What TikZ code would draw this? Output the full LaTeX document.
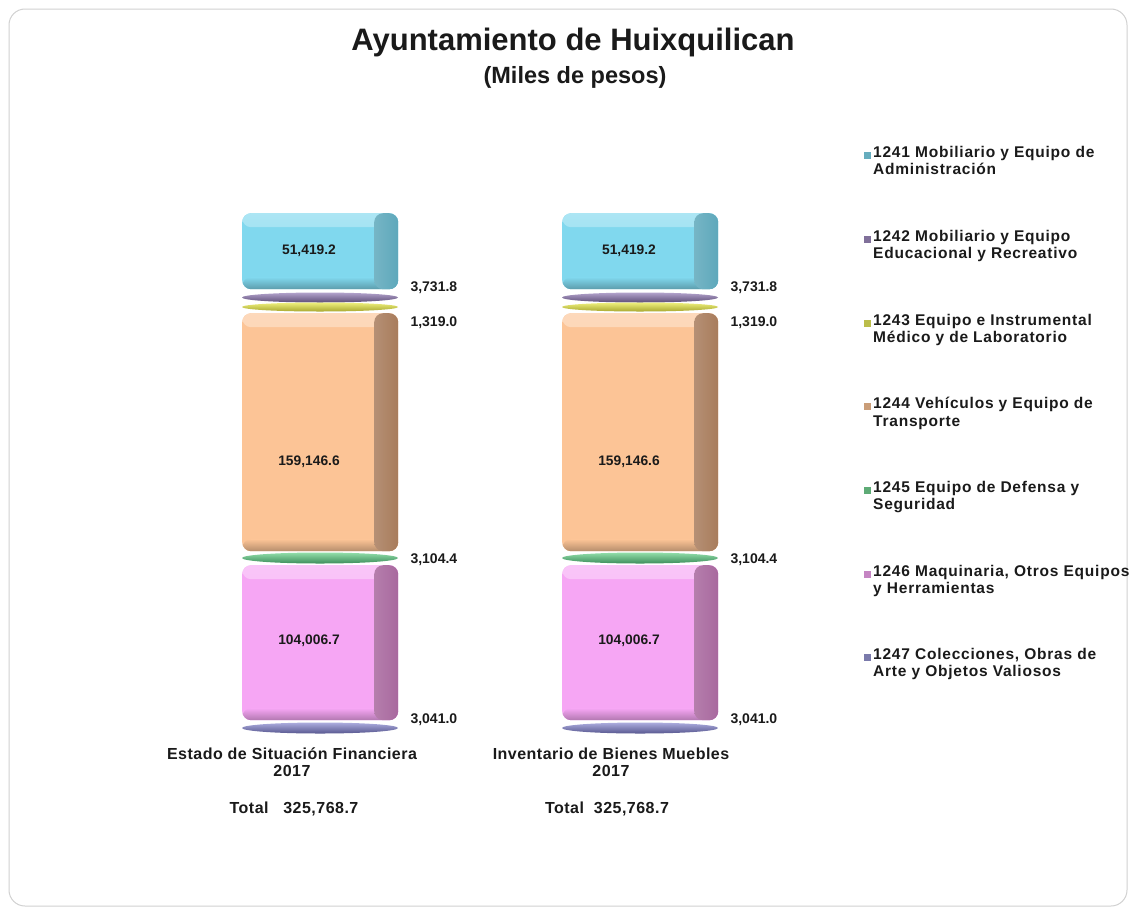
\documentclass[tikz,border=0pt]{standalone}
\usepackage{fontspec}
\setmainfont{Liberation Sans}
\usetikzlibrary{shapes.geometric}
\definecolor{cyanF}{HTML}{80D8EE}\definecolor{cyanS}{HTML}{5EA8BB}
\definecolor{purF}{HTML}{A08CC0}\definecolor{purS}{HTML}{5E4E78}
\definecolor{yelF}{HTML}{EAEC5C}\definecolor{yelS}{HTML}{A8A830}
\definecolor{oraF}{HTML}{FCC496}\definecolor{oraS}{HTML}{A87C5C}
\definecolor{greF}{HTML}{76D694}\definecolor{greS}{HTML}{3E8E5C}
\definecolor{pinF}{HTML}{F6A6F4}\definecolor{pinS}{HTML}{A8689E}
\definecolor{lavF}{HTML}{9898D6}\definecolor{lavS}{HTML}{585890}
\definecolor{txt}{HTML}{1A1A1A}
\tikzset{
  seg/.style 2 args={draw=none, fill=#1, rounded corners=9pt, anchor=north west,
    minimum width=156pt, inner sep=0pt,
    path picture={
      \shade[top color=#1!65!white, bottom color=#1]
        (path picture bounding box.north west) rectangle ([yshift=-14pt]path picture bounding box.north east);
      \shade[top color=#1, bottom color=#1!72!black]
        ([yshift=12pt]path picture bounding box.south west) rectangle (path picture bounding box.south east);
      \shade[left color=#2!85!white, right color=#2, rounded corners=9pt]
        ([xshift=-24pt]path picture bounding box.north east) rectangle (path picture bounding box.south east);
    }},
  disc/.style 2 args={ellipse, draw=none, minimum width=156pt, inner sep=0pt,
    top color=#1!80!white, middle color=#1, bottom color=#2},
  val/.style={font=\bfseries\fontsize{13.8}{16}\selectfont, text=txt},
  sval/.style={font=\bfseries\fontsize{14}{16}\selectfont, text=txt, anchor=west},
  leg/.style={font=\bfseries\fontsize{15.5}{17.5}\selectfont\addfontfeature{LetterSpace=5}, text=txt, anchor=north west, align=left, inner sep=0pt},
  legmark/.style={draw=none, fill=#1, minimum size=7pt, inner sep=0pt},
  captxt/.style={font=\bfseries\fontsize{16}{17}\selectfont\addfontfeature{LetterSpace=3}, text=txt, align=center},
}
\begin{document}
\begin{tikzpicture}[x=1pt,y=-1pt]
\useasboundingbox (0,0) rectangle (1131,910);
\fill[white] (0,0) rectangle (1131,910);
\draw[draw=black!18, line width=1pt, rounded corners=16pt] (9,9) rectangle (1127,906);

\node[font=\bfseries\fontsize{31}{35}\selectfont, text=txt] (title) at (573,42) {Ayuntamiento de Huixquilican};
\node[font=\bfseries\fontsize{23.5}{27}\selectfont, text=txt] (sub) at (575,77) {(Miles de pesos)};

% ---------- bars ----------
\foreach \bx/\nm in {242/L, 562/R}{
  \node[seg={cyanF}{cyanS}, minimum height=76pt] (c\nm) at (\bx,213) {};
  \node[val] (cv\nm) at (\bx+67,251) {51,419.2};
  \node[disc={purF}{purS}, minimum height=10pt] (p\nm) at (\bx+78,297.5) {};
  \node[disc={yelF}{yelS}, minimum height=9pt] (y\nm) at (\bx+78,307) {};
  \node[seg={oraF}{oraS}, minimum height=238pt] (o\nm) at (\bx,313) {};
  \node[val] (ov\nm) at (\bx+67,462) {159,146.6};
  \node[disc={greF}{greS}, minimum height=11pt] (g\nm) at (\bx+78,558) {};
  \node[seg={pinF}{pinS}, minimum height=155pt] (k\nm) at (\bx,565) {};
  \node[val] (kv\nm) at (\bx+67,641) {104,006.7};
  \node[disc={lavF}{lavS}, minimum height=11pt] (l\nm) at (\bx+78,728) {};
  \node[sval] (pl\nm) at (\bx+165,288) {3,731.8};
  \node[sval] (yl\nm) at (\bx+165,323) {1,319.0};
  \node[sval] (gl\nm) at (\bx+165,560) {3,104.4};
  \node[sval] (ll\nm) at (\bx+165,720) {3,041.0};
}

\node[captxt] (capL) at (292,762) {Estado de Situación Financiera\\2017};
\node[captxt] (totL) at (294,809) {Total\ \ \ 325,768.7};
\node[captxt] (capR) at (611,762) {Inventario de Bienes Muebles\\2017};
\node[captxt] (totR) at (607,809) {Total\ \ 325,768.7};

% ---------- legend ----------
\foreach \y/\c/\t [count=\i] in {
  146/cyanF/{1241 Mobiliario y Equipo de\\Administración},
  230/purF/{1242 Mobiliario y Equipo\\Educacional y Recreativo},
  314/yelF/{1243 Equipo e Instrumental\\Médico y de Laboratorio},
  397/oraF/{1244 Vehículos y Equipo de\\Transporte},
  481/greF/{1245 Equipo de Defensa y\\Seguridad},
  565/pinF/{1246 Maquinaria, Otros Equipos\\y Herramientas},
  648/lavF/{1247 Colecciones, Obras de\\Arte y Objetos Valiosos}}{
  \node[legmark=\c!80!black] (m\i) at (867,\y+9) {};
  \node[leg] (t\i) at (873,\y) {\t};
}
\end{tikzpicture}
\end{document}
